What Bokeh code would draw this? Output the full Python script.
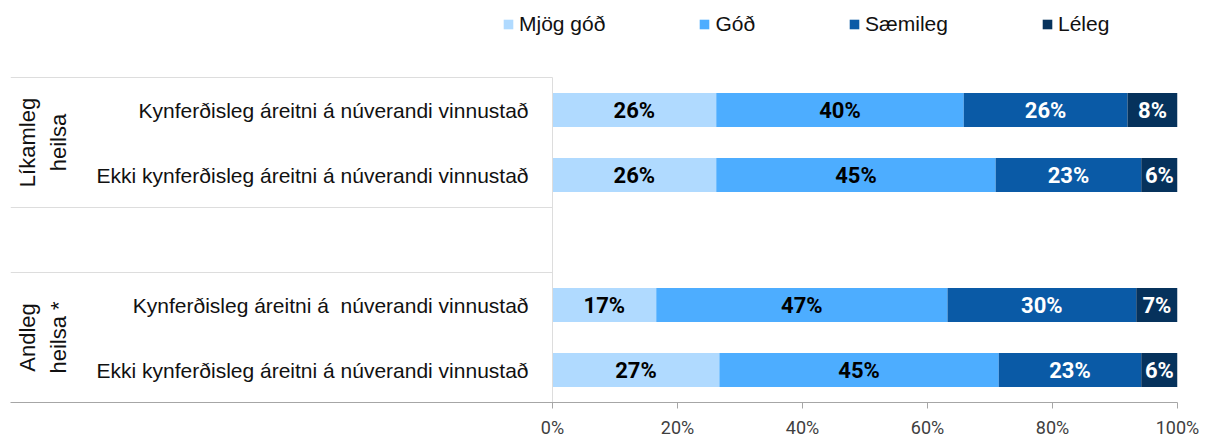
import math
from bokeh.plotting import figure
from bokeh.models import ColumnDataSource, Range1d, FixedTicker, PrintfTickFormatter
from bokeh.core.properties import value
from bokeh.embed import file_html
from bokeh.resources import INLINE

# ---------------- data ----------------
categories = [
    "Kynferðisleg áreitni á núverandi vinnustað",
    "Ekki kynferðisleg áreitni á núverandi vinnustað",
    "Kynferðisleg áreitni á\u00a0 núverandi vinnustað",
    "Ekki kynferðisleg áreitni á núverandi vinnustað",
]
row_pos = [4, 3, 1, 0]          # slot of each bar (slot 2 is the empty gap)
groups = ["Líkamleg\nheilsa", "Andleg\nheilsa *"]
group_pos = [3.5, 0.5]

series = ["Mjög góð", "Góð", "Sæmileg", "Léleg"]
mjog_god = [26.2, 26.2, 16.6, 26.7]
god = [39.6, 44.7, 46.6, 44.7]
saemileg = [26.2, 23.3, 30.2, 22.8]
leleg = [8.0, 5.8, 6.6, 5.8]

ticks = [0, 20, 40, 60, 80, 100]

colors = ["#B0DAFF", "#4DADFF", "#0A5AA6", "#06325C"]
label_colors = ["black", "black", "white", "white"]

# ---------------- figure ----------------
px_per_unit = 6.25
x_start = -542 / px_per_unit
p = figure(
    frame_width=1167, frame_height=394,
    min_border_left=10, min_border_right=26, min_border_top=8, min_border_bottom=30,
    x_range=Range1d(x_start, 100), y_range=Range1d(-0.5, -0.5 + 394 / 65),
    y_axis_location=None, toolbar_location=None, output_backend="svg",
)
p.outline_line_color = None
p.xgrid.visible = False
p.ygrid.visible = False

cols = {"mjog_god": mjog_god, "god": god, "saemileg": saemileg, "leleg": leleg}
keys = list(cols.keys())
src = ColumnDataSource(dict(y=row_pos, **cols))
renderers = p.hbar_stack(keys, y="y", height=34 / 65, color=colors, source=src,
                         line_color=None, legend_label=series)

# percentage labels centered in each segment
lx, ly, lt, lc = [], [], [], []
for i in range(len(categories)):
    left = 0.0
    for k, key in enumerate(keys):
        v = cols[key][i]
        lx.append(left + v / 2)
        ly.append(row_pos[i])
        lt.append(f"{round(v)}%")
        lc.append(label_colors[k])
        left += v
p.text(x=lx, y=ly, text=lt, text_color=lc, text_align="center", text_baseline="middle",
       text_font=value("Roboto"), text_font_style="bold", text_font_size="22px")

# category labels
p.text(x=[0] * len(categories), y=row_pos, text=categories, x_offset=-24,
       text_align="right", text_baseline="middle", text_font=value("Liberation Sans"),
       text_font_size="21px", text_color="#111111")

# group labels (rotated)
p.text(x=[x_start + 5.2] * len(groups), y=group_pos, text=groups, angle=math.pi / 2,
       text_align="center", text_baseline="middle", text_font=value("Liberation Sans"),
       text_font_size="22px", text_color="#111111", text_line_height=1.25)

# separators and frame line
sep_y = [4.5, 2.5, 1.5]
p.segment(x0=[x_start] * len(sep_y), x1=[0] * len(sep_y), y0=sep_y, y1=sep_y,
          line_color="#dddddd", line_width=1)
p.segment(x0=[0], x1=[0], y0=[-0.5], y1=[4.5], line_color="#dddddd", line_width=1)

# axis
ax = p.xaxis[0]
ax.ticker = FixedTicker(ticks=ticks)
ax.formatter = PrintfTickFormatter(format="%d%%")
ax.axis_line_color = "#a6a6a6"
ax.major_tick_line_color = "#a6a6a6"
ax.major_tick_out = 6
ax.major_tick_in = 0
ax.minor_tick_line_color = None
ax.major_label_standoff = 8
ax.major_label_text_font = "Roboto"
ax.major_label_text_font_size = "18px"
ax.major_label_text_color = "#404040"

# legend
lg = p.legend[0]
lg.orientation = "horizontal"
lg.location = (492, 366)
lg.border_line_color = None
lg.background_fill_alpha = 0
lg.padding = 0
lg.margin = 0
lg.spacing = 93
lg.glyph_width = 12
lg.glyph_height = 12
lg.label_standoff = 5
lg.label_text_font = "Liberation Sans"
lg.label_text_font_size = "21px"
lg.label_text_color = "#111111"

open("out.html", "w").write(file_html(p, INLINE))
